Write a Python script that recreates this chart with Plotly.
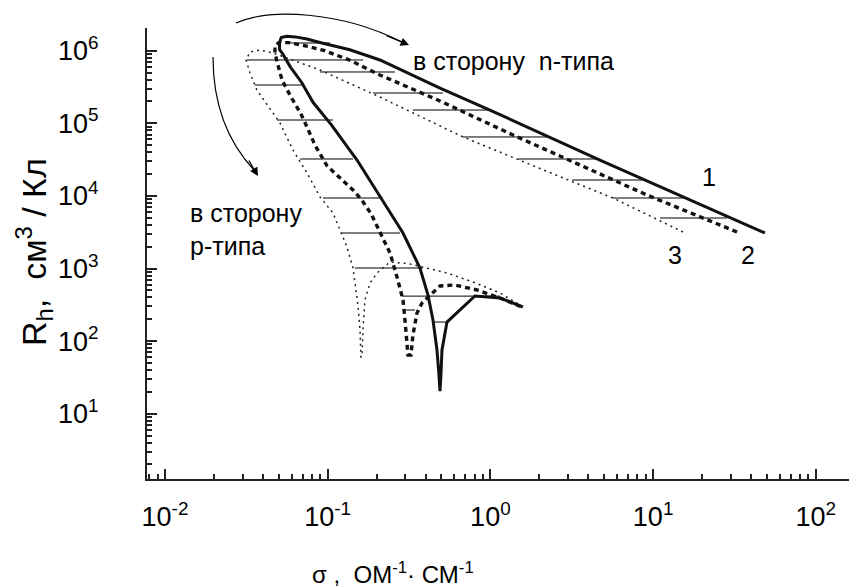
import plotly.graph_objects as go

# ---- data (sigma in Ohm^-1 cm^-1, R_h in cm^3/C) ----
c1_sigma = [48.7, 16.9, 4.71, 0.993, 0.490, 0.2094, 0.1367, 0.0921, 0.0746, 0.0632, 0.0559,
            0.0518, 0.0506, 0.0506, 0.0525, 0.0589, 0.0692, 0.0814, 0.1054, 0.1514, 0.2157,
            0.2903, 0.369, 0.4135, 0.4436, 0.4695, 0.483, 0.4898, 0.4965, 0.504, 0.541,
            0.803, 1.146, 1.585]
c1_R = [3085, 8790, 31200, 152000, 306000, 745000, 1.03e6, 1.28e6, 1.45e6, 1.55e6, 1.58e6,
        1.52e6, 1.29e6, 1.03e6, 930000, 600000, 365000, 193000, 95000, 31230, 8780,
        3083, 1016, 431, 195.4, 75.4, 34.1, 20.5, 34.1, 75.4, 183,
        418, 392, 295]

c2_sigma = [32.8, 9.17, 1.377, 0.490, 0.2094, 0.1369, 0.0947, 0.0713, 0.0576, 0.0500, 0.0474,
            0.0474, 0.0495, 0.0525, 0.0589, 0.0683, 0.0746, 0.0836, 0.0990, 0.1220, 0.1430,
            0.1620, 0.1850, 0.2037, 0.2415, 0.2667, 0.2903, 0.2985, 0.307, 0.3114, 0.325,
            0.334, 0.354, 0.380, 0.490, 0.605, 0.827, 1.146, 1.563]
c2_R = [3184, 10290, 69000, 203000, 463000, 740000, 1.01e6, 1.18e6, 1.29e6, 1.29e6, 1.15e6,
        920000, 630000, 390000, 240000, 136000, 89000, 50000, 26000, 16560, 12060,
        8780, 5633, 3612, 1635, 764, 368, 195.4, 103.5, 64.4, 64.4,
        121, 244, 335, 574, 593, 506, 392, 295]

c3_sigma = [15.27, 5.67, 3.22, 0.6785, 0.2094, 0.0897, 0.0461, 0.0384, 0.0333, 0.0315, 0.0333,
            0.0367, 0.0509, 0.0612, 0.0746, 0.0897, 0.1078, 0.1314, 0.143, 0.147, 0.1535,
            0.158, 0.160, 0.1625, 0.165, 0.1695, 0.182, 0.201, 0.2415, 0.321, 0.4436,
            0.541, 0.782, 1.146, 1.52]
c3_R = [3184, 9355, 15540, 64800, 230000, 542000, 930000, 1.022e6, 960000, 745000, 493000,
        287500, 101000, 42900, 20680, 9660, 5815, 1977, 1016, 652, 314,
        142, 60.4, 60.4, 156, 368, 631, 867, 1230, 1153, 953,
        867, 652, 460, 314]

hatch_R = [1.277e6, 745000, 509000, 337000, 261500, 152400, 111000, 64800, 32240, 32240,
           16560, 9355, 9355, 4962, 3083, 1016, 416.6, 268, 183]
hatch_from = [0.0562, 0.0319, 0.0897, 0.0357, 0.19, 0.334, 0.0488, 0.6785, 0.0677, 1.477,
              3.173, 0.0935, 5.67, 11.02, 0.1225, 0.147, 0.286, 0.2903, 0.4436]
hatch_to = [0.1033, 0.165, 0.2593, 0.0705, 0.511, 0.993, 0.1078, 2.323, 0.143, 4.71,
            8.67, 0.2188, 16.15, 28.45, 0.278, 0.385, 1.146, 0.344, 0.541]

x_tickvals = [0.01, 0.1, 1, 10, 100]
x_ticktext = ["10<sup>-2</sup>", "10<sup>-1</sup>", "10<sup>0</sup>", "10<sup>1</sup>", "10<sup>2</sup>"]
y_tickvals = [10, 100, 1000, 1e4, 1e5, 1e6]
y_ticktext = ["10<sup>1</sup>", "10<sup>2</sup>", "10<sup>3</sup>", "10<sup>4</sup>",
              "10<sup>5</sup>", "10<sup>6</sup>"]
x_minor = [m * 10.0 ** e for e in range(-3, 3) for m in range(2, 10)]
y_minor = [m * 10.0 ** e for e in range(0, 7) for m in range(2, 10)]

FONT = "Liberation Sans, Arial, sans-serif"

fig = go.Figure()

# hatch lines
hx, hy = [], []
for r, a, b in zip(hatch_R, hatch_from, hatch_to):
    hx += [a, b, None]
    hy += [r, r, None]
fig.add_trace(go.Scatter(x=hx, y=hy, mode="lines", line=dict(color="black", width=1),
                         showlegend=False, hoverinfo="skip"))

fig.add_trace(go.Scatter(x=c3_sigma, y=c3_R, mode="lines",
                         line=dict(color="#222", width=1.5, dash="2px,4px"), showlegend=False))
fig.add_trace(go.Scatter(x=c2_sigma, y=c2_R, mode="lines",
                         line=dict(color="#111", width=3.4, dash="5px,4px"), showlegend=False))
fig.add_trace(go.Scatter(x=c1_sigma, y=c1_R, mode="lines",
                         line=dict(color="#111", width=3), showlegend=False))

L, R, T, B = 147, 0, 28, 109
W, H = 849, 588
pw, ph = W - L - R, H - T - B


def px(x):
    return (x - L) / pw


def py(y):
    return (H - B - y) / ph


shapes = [
    dict(type="path", xref="paper", yref="paper",
         path=f"M {px(236)},{py(23)} C {px(270)},{py(8)} {px(340)},{py(11)} {px(402)},{py(42)}",
         line=dict(color="black", width=1.2)),
    dict(type="path", xref="paper", yref="paper",
         path=f"M {px(213)},{py(57)} C {px(213)},{py(100)} {px(226)},{py(140)} {px(254)},{py(170)}",
         line=dict(color="black", width=1.2)),
]


def label(x, y, text, size=25, **kw):
    d = dict(xref="paper", yref="paper", x=px(x), y=py(y), text=text, showarrow=False,
             xanchor="center", yanchor="middle",
             font=dict(size=size, family=FONT, color="black"))
    d.update(kw)
    return d


annotations = [
    dict(xref="paper", yref="paper", x=px(409), y=py(45), ax=-24, ay=-10, text="",
         showarrow=True, arrowhead=2, arrowsize=1.4, arrowwidth=1.2, arrowcolor="black"),
    dict(xref="paper", yref="paper", x=px(258), y=py(176), ax=-10, ay=-17, text="",
         showarrow=True, arrowhead=2, arrowsize=1.4, arrowwidth=1.2, arrowcolor="black"),
    label(513, 61, "в сторону  n-типа"),
    label(188, 229, "в сторону<br>р-типа", xanchor="left", align="left"),
    label(709, 177, "1"),
    label(675, 255, "3"),
    label(748, 255, "2"),
    label(34, 252, "R<sub>h</sub>,  см<sup>3</sup> / Кл", size=34, textangle=-90),
    label(393, 573, "σ ,  ОМ<sup>-1</sup>· СМ<sup>-1</sup>", size=24),
]

fig.update_layout(
    width=W, height=H,
    margin=dict(l=L, r=R, t=T, b=B),
    paper_bgcolor="white", plot_bgcolor="white",
    shapes=shapes, annotations=annotations,
    font=dict(family=FONT, color="black"),
)
fig.update_xaxes(type="log", range=[-2.1106, 2.204], showgrid=False, zeroline=False,
                 showline=True, linewidth=2, linecolor="#222",
                 tickmode="array", tickvals=x_tickvals, ticktext=x_ticktext,
                 ticks="inside", ticklen=10, tickwidth=1.5, tickcolor="#222",
                 ticklabelstandoff=13, tickfont=dict(size=27, family=FONT, color="black"),
                 minor=dict(tickmode="array", tickvals=x_minor, ticks="inside", ticklen=5,
                            tickwidth=1.5, tickcolor="#222", showgrid=False))
fig.update_yaxes(type="log", range=[0.1006, 6.3127], showgrid=False, zeroline=False,
                 showline=True, linewidth=2, linecolor="#222",
                 tickmode="array", tickvals=y_tickvals, ticktext=y_ticktext,
                 ticks="inside", ticklen=10, tickwidth=1.5, tickcolor="#222",
                 ticklabelstandoff=41, tickfont=dict(size=27, family=FONT, color="black"),
                 minor=dict(tickmode="array", tickvals=y_minor, ticks="inside", ticklen=5,
                            tickwidth=1.5, tickcolor="#222", showgrid=False))

fig.write_html("out.html")
